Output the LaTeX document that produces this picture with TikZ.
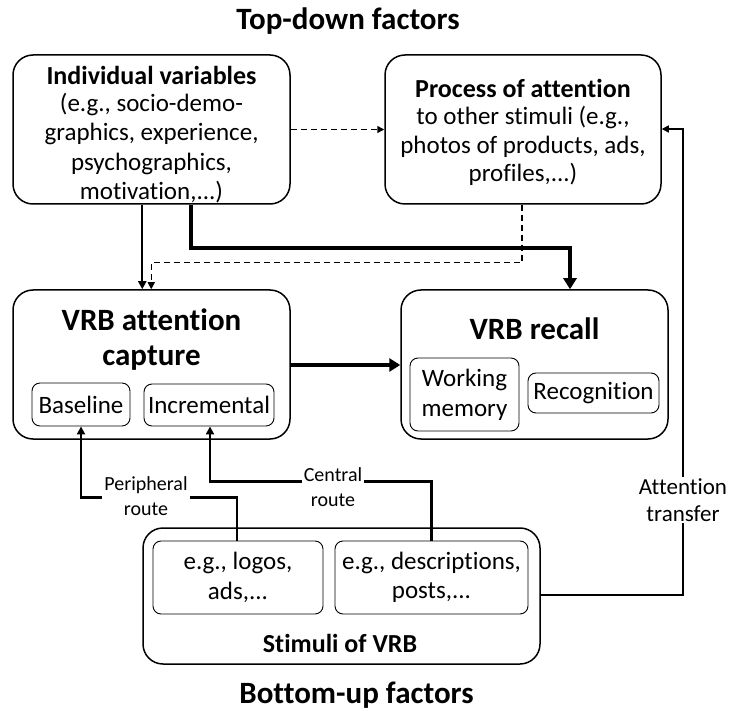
\documentclass[tikz,border=0pt]{standalone}
\usepackage{fontspec}
\setmainfont{Carlito}[Ligatures={NoCommon}]
\usetikzlibrary{arrows.meta,calc}
\begin{document}
\begin{tikzpicture}[x=1pt,y=-1pt,
  bigbox/.style={draw,line width=1.5pt,rounded corners=20pt,inner sep=0pt},
  subbox/.style={draw,line width=0.9pt,rounded corners=8pt,inner sep=0pt},
  txt/.style={align=center,inner sep=0pt,font=\fontsize{25}{29.5}\selectfont},
  ttl/.style={align=center,inner sep=0pt,font=\fontsize{26}{30}\selectfont\bfseries},
  bigttl/.style={align=center,inner sep=0pt,font=\fontsize{31}{35}\selectfont\bfseries},
  lbl/.style={align=center,inner sep=2pt,fill=white,font=\fontsize{20}{25.5}\selectfont},
  thinarr/.style={line width=2pt,-{Triangle[length=8pt,width=8pt]}},
  thickarr/.style={line width=4pt,-{Triangle[length=11pt,width=13pt]}},
  dasharr/.style={line width=1.5pt,dash pattern=on 6pt off 4pt,-{Triangle[length=7pt,width=7pt]}},
  routeline/.style={line width=2.5pt,-{Triangle[length=8pt,width=8pt]}}
]
\useasboundingbox (0,0) rectangle (731,711);
% headings
\node[font=\fontsize{31}{36}\selectfont\bfseries] (top) at (348,21) {Top-down factors};
\node[font=\fontsize{31}{36}\selectfont\bfseries] (bot) at (356.5,695) {Bottom-up factors};
% boxes
\node[bigbox,minimum width=277pt,minimum height=149pt] (ind) at (151.5,129.5) {};
\node[bigbox,minimum width=276pt,minimum height=149pt] (proc) at (523,129.5) {};
\node[bigbox,minimum width=277pt,minimum height=149pt] (cap) at (151.5,364.5) {};
\node[bigbox,minimum width=267pt,minimum height=149pt] (rec) at (534.5,364.5) {};
\node[bigbox,minimum width=397pt,minimum height=136pt] (stim) at (341.5,596) {};
% sub boxes
\node[subbox,minimum width=98pt,minimum height=43pt,txt] (base) at (81,404.5) {Baseline};
\node[subbox,minimum width=130pt,minimum height=42pt,txt] (incr) at (209,405) {Incremental};
\node[subbox,minimum width=109pt,minimum height=73pt,txt,font=\fontsize{25}{30}\selectfont] (wm) at (464.5,394.5) {Working\\memory};
\node[subbox,minimum width=131pt,minimum height=40pt,txt] (recog) at (593.5,393) {Recognition};
\node[subbox,minimum width=170pt,minimum height=73pt,txt] (logos) at (238,577.5) {e.g., logos,\\ads,...};
\node[subbox,minimum width=193pt,minimum height=73pt,txt] (desc) at (431.5,577.5) {e.g., descriptions,\\posts,...};
% texts
\node[ttl] (indt) at (151.5,75) {Individual variables};
\node[txt] (indb) at (151.5,148) {(e.g., socio-demo-\\graphics, experience,\\psychographics,\\motivation,...)};
\node[ttl] (proct) at (523,88) {Process of attention};
\node[txt,font=\fontsize{25}{28.5}\selectfont] (procb) at (523,146) {to other stimuli (e.g.,\\photos of products, ads,\\profiles,...)};
\node[bigttl] (capt) at (151.5,340) {VRB attention\\capture};
\node[bigttl] (rect) at (534.5,329) {VRB recall};
\node[ttl] (stimt) at (340,643) {Stimuli of VRB};
% connectors
\draw[dasharr] (ind.east) -- (proc.west);
\draw[thinarr] ([xshift=130pt]ind.south west) -- ([xshift=130pt]cap.north west);
\draw[thickarr] ([xshift=179pt]ind.south west) -- ++(0,43) -| ([xshift=35.5pt]rec.north);
\draw[dasharr] ([xshift=-1pt]proc.south) -- ++(0,58) -| ([xshift=139pt]cap.north west);
\draw[thickarr] (cap.east |- 0,365) -- (rec.west |- 0,365);
\draw[line width=1.5pt,-{Triangle[length=7pt,width=7pt]}] (stim.east |- 0,595) -| (683,129) coordinate (atc) -- (proc.east |- atc);
\node[lbl,font=\fontsize{23}{27}\selectfont] (attl) at (683,500) {Attention\\transfer};
\draw[routeline] ([xshift=-1pt]logos.north) -- ++(0,-43) -| (base.south);
\node[lbl] (perl) at (146,496) {Peripheral\\route};
\draw[routeline] (desc.north) -- ++(0,-59) -| ([xshift=1pt]incr.south);
\node[lbl] (cenl) at (333,487) {Central\\route};
\end{tikzpicture}
\end{document}
